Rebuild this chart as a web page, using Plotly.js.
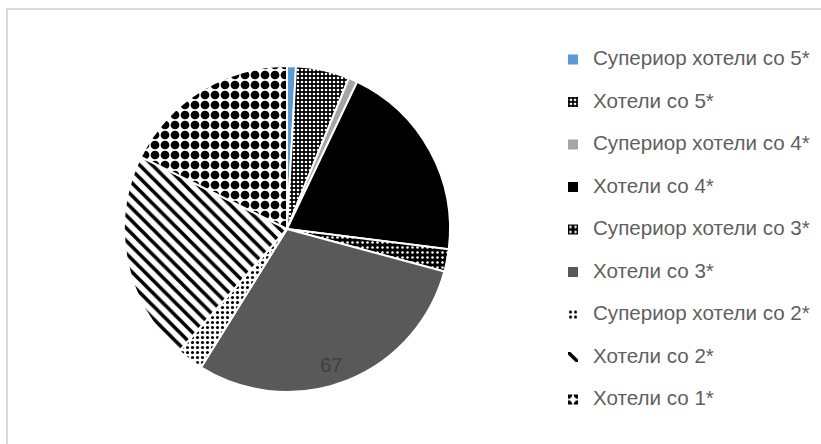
<!DOCTYPE html>
<html>
<head>
<meta charset="utf-8">
<script src="https://cdn.plot.ly/plotly-3.0.1.min.js"></script>
<style>html,body{margin:0;padding:0;background:#fff;}#chart{width:821px;height:444px;}</style>
</head>
<body>
<div id="chart"></div>
<script>
// Data
const categories = [
  'Супериор хотели со 5*',
  'Хотели со 5*',
  'Супериор хотели со 4*',
  'Хотели со 4*',
  'Супериор хотели со 3*',
  'Хотели со 3*',
  'Супериор хотели со 2*',
  'Хотели со 2*',
  'Хотели со 1*'
];
const values = [2, 12, 2, 45, 5, 67, 6, 47, 40];
const labelledCategory = 'Хотели со 3*';

// Styles
const bgColors = ['#5b9bd5', '#000000', '#a5a5a5', '#000000', '#000000', '#595959', '#ffffff', '#ffffff', '#ffffff'];
const patShapes = ['', '.', '', '', '.', '', '.', '\\', '.'];
const patFg = ['#000', '#ffffff', '#000', '#000', '#ffffff', '#000', '#000000', '#000000', '#000000'];
const patSize = [8, 4, 8, 8, 5, 8, 5, 9, 10];
const patSolidity = [0.3, 0.35, 0.3, 0.3, 0.2, 0.3, 0.3, 0.4, 0.6];

// "inside end" style label: padding lines push the value towards the rim of the slice
const insideEndPad = '&nbsp;<br>&nbsp;<br>&nbsp;<br>&nbsp;<br>&nbsp;&nbsp;&nbsp;&nbsp;';
const sliceText = values.map((v, i) => categories[i] === labelledCategory ? insideEndPad + String(v) : '');
const legendLabels = categories.map(c => '<span style="font-size:20.6px">' + c + '</span><br>&nbsp;');

const trace = {
  type: 'pie',
  labels: legendLabels,
  values: values,
  text: sliceText,
  textinfo: 'text',
  textposition: 'inside',
  insidetextorientation: 'horizontal',
  textfont: {family: 'Liberation Sans, Arial, sans-serif', size: 20, color: '#404040'},
  sort: false,
  direction: 'clockwise',
  rotation: 0,
  hoverinfo: 'value',
  marker: {
    colors: bgColors,
    line: {color: '#ffffff', width: 2},
    pattern: {
      shape: patShapes,
      fgcolor: patFg,
      bgcolor: bgColors,
      size: patSize,
      solidity: patSolidity,
      fillmode: 'replace'
    }
  },
  domain: {x: [124 / 821, 450 / 821], y: [52 / 444, 378 / 444]}
};

const layout = {
  width: 821,
  height: 444,
  margin: {l: 0, r: 0, t: 0, b: 0},
  paper_bgcolor: '#ffffff',
  showlegend: true,
  legend: {
    x: 553 / 821, xanchor: 'left',
    y: 1 - 43 / 444, yanchor: 'top',
    font: {family: 'Liberation Sans, Arial, sans-serif', size: 15.2, color: '#5f5f5f'},
    valign: 'top',
    bgcolor: 'rgba(0,0,0,0)'
  },
  shapes: [{
    type: 'rect', xref: 'paper', yref: 'paper',
    x0: 7 / 821, x1: 1.05, y0: -0.05, y1: 1 - 9 / 444,
    line: {color: '#d9d9d9', width: 2}, fillcolor: 'rgba(0,0,0,0)'
  }]
};

Plotly.newPlot('chart', [trace], layout, {displayModeBar: false, staticPlot: true});
</script>
</body>
</html>
